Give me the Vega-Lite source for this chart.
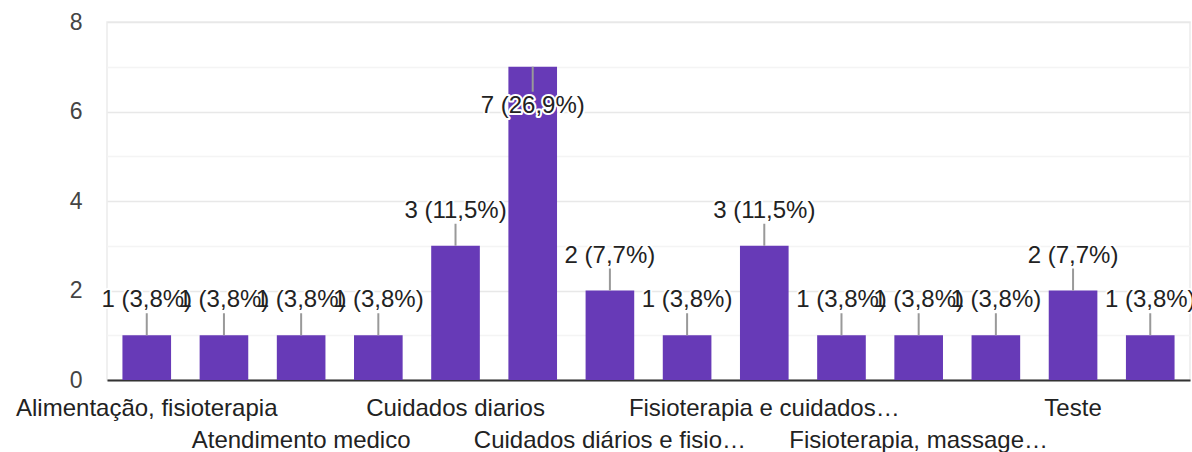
{
  "$schema": "https://vega.github.io/schema/vega-lite/v6.json",
  "width": 1083,
  "height": 358,
  "autosize": {"type": "none"},
  "padding": {"left": 107, "top": 22, "right": 2, "bottom": 72},
  "background": "white",
  "config": {"view": {"stroke": "#ebebeb", "strokeWidth": 1.5}, "font": "Liberation Sans"},
  "data": {
    "values": [
      {"resposta": "Alimentação, fisioterapia", "count": 1, "label": "1 (3,8%)"},
      {"resposta": "Alimentação, higiene e cuidados", "count": 1, "label": "1 (3,8%)"},
      {"resposta": "Atendimento medico", "count": 1, "label": "1 (3,8%)"},
      {"resposta": "Companhia e cuidados", "count": 1, "label": "1 (3,8%)"},
      {"resposta": "Cuidados diarios", "count": 3, "label": "3 (11,5%)"},
      {"resposta": "Cuidados diários", "count": 7, "label": "7 (26,9%)"},
      {"resposta": "Cuidados diários e fisio…", "count": 2, "label": "2 (7,7%)"},
      {"resposta": "Fisioterapia", "count": 1, "label": "1 (3,8%)"},
      {"resposta": "Fisioterapia e cuidados…", "count": 3, "label": "3 (11,5%)"},
      {"resposta": "Fisioterapia, alimentação", "count": 1, "label": "1 (3,8%)"},
      {"resposta": "Fisioterapia, massage…", "count": 1, "label": "1 (3,8%)"},
      {"resposta": "Medicação e cuidados", "count": 1, "label": "1 (3,8%)"},
      {"resposta": "Teste", "count": 2, "label": "2 (7,7%)"},
      {"resposta": "Todos os cuidados", "count": 1, "label": "1 (3,8%)"}
    ]
  },
  "encoding": {
    "x": {
      "field": "resposta",
      "type": "nominal",
      "sort": null,
      "scale": {"paddingInner": 0.37, "paddingOuter": 0.2},
      "axis": {
        "title": null,
        "labelAngle": 0,
        "ticks": false,
        "domainColor": "#333333",
        "domainWidth": 2,
        "labelFontSize": 24,
        "labelColor": "#222222",
        "labelFont": "Liberation Sans",
        "labelLimit": 400,
        "labelOverlap": false,
        "labelBaseline": "top",
        "labelExpr": "indexof(['Alimentação, fisioterapia','Atendimento medico','Cuidados diarios','Cuidados diários e fisio…','Fisioterapia e cuidados…','Fisioterapia, massage…','Teste'], datum.value) >= 0 ? datum.value : ''",
        "labelPadding": {"condition": {"test": "indexof(['Atendimento medico','Cuidados diários e fisio…','Fisioterapia, massage…'], datum.value) >= 0", "value": 48}, "value": 16}
      }
    }
  },
  "layer": [
    {
      "mark": {"type": "bar", "color": "#673ab7"},
      "encoding": {
        "y": {
          "field": "count",
          "type": "quantitative",
          "scale": {"domain": [0, 8], "nice": false},
          "axis": {
            "title": null,
            "values": [0, 1, 2, 3, 4, 5, 6, 7, 8],
            "labelExpr": "datum.value % 2 == 0 ? datum.label : ''",
            "ticks": false,
            "domain": false,
            "gridColor": {"condition": {"test": "datum.value % 2 == 0", "value": "#e8e8e8"}, "value": "#f4f4f4"},
            "gridWidth": 1.5,
            "labelFontSize": 23,
            "labelColor": "#444444",
            "labelFont": "Liberation Sans",
            "labelPadding": 25
          }
        }
      }
    },
    {
      "mark": {"type": "rule", "color": "#999999", "strokeWidth": 2, "y2Offset": {"expr": "datum.count >= 7 ? 25 : -22"}},
      "encoding": {
        "y": {"field": "count", "type": "quantitative"},
        "y2": {"field": "count"}
      }
    },
    {
      "mark": {"type": "text", "fontSize": 24, "font": "Liberation Sans", "color": "white", "stroke": "white", "strokeWidth": 4, "strokeJoin": "round", "baseline": "middle", "dy": {"expr": "datum.count >= 7 ? 39 : -35"}},
      "encoding": {
        "y": {"field": "count", "type": "quantitative"},
        "text": {"field": "label"}
      }
    },
    {
      "mark": {"type": "text", "fontSize": 24, "font": "Liberation Sans", "color": "#222222", "baseline": "middle", "dy": {"expr": "datum.count >= 7 ? 39 : -35"}},
      "encoding": {
        "y": {"field": "count", "type": "quantitative"},
        "text": {"field": "label"}
      }
    }
  ]
}
